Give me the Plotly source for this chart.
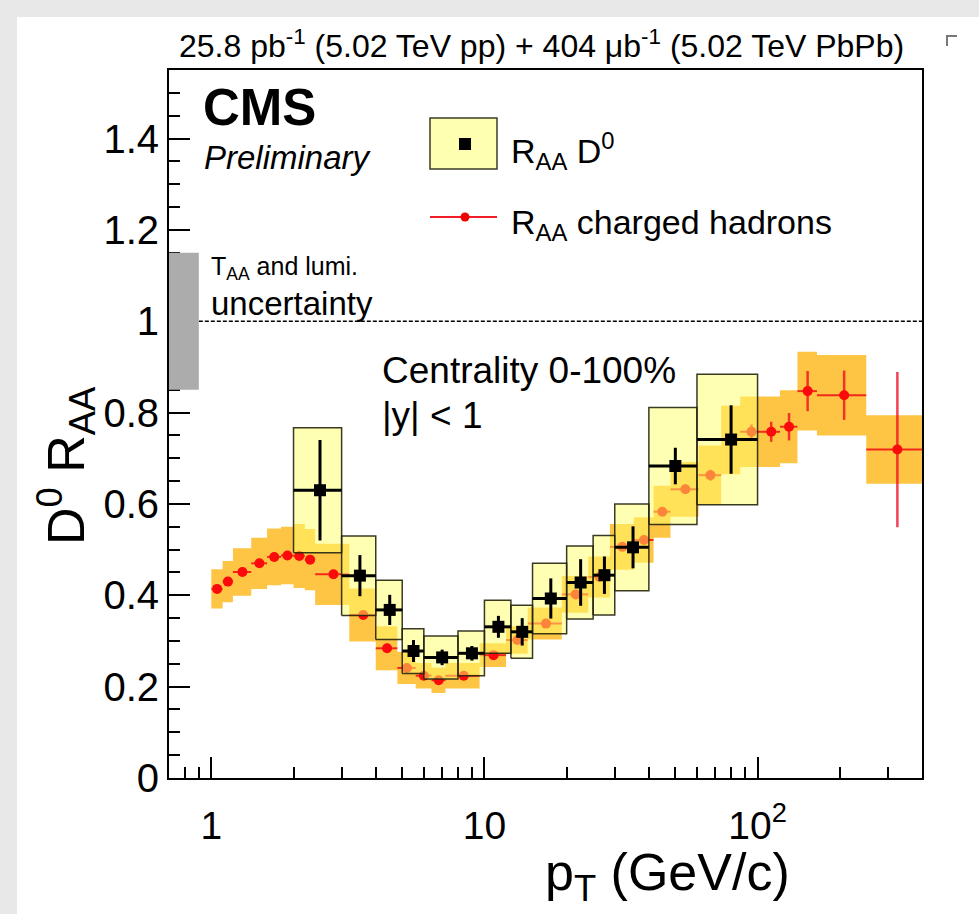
import math
import plotly.graph_objects as go

# ---------------- data ----------------
# D0 R_AA (pT bins in GeV/c)
d0_lo = [2, 3, 4, 5, 6, 8, 10, 12.5, 15, 20, 25, 30, 40, 60]
d0_hi = [3, 4, 5, 6, 8, 10, 12.5, 15, 20, 25, 30, 40, 60, 100]
d0_val = [0.630, 0.443, 0.368, 0.278, 0.264, 0.273, 0.331, 0.320, 0.393, 0.428, 0.444, 0.505, 0.683, 0.741]
d0_stat = [0.110, 0.045, 0.033, 0.024, 0.017, 0.016, 0.024, 0.030, 0.044, 0.051, 0.041, 0.046, 0.040, 0.075]
d0_syst = [0.137, 0.087, 0.065, 0.049, 0.047, 0.049, 0.058, 0.058, 0.077, 0.080, 0.087, 0.095, 0.128, 0.143]

# charged hadron R_AA
ch_lo = [1.0, 1.1, 1.2, 1.4, 1.6, 1.8, 2.0, 2.2, 2.4, 3.2, 4.0, 4.8, 5.6, 6.4, 7.2, 9.6, 12.0, 14.4,
         19.2, 24.0, 28.8, 35.2, 41.6, 48.0, 60.8, 73.6, 86.4, 103.6, 120.8, 140, 165, 250]
ch_hi = [1.1, 1.2, 1.4, 1.6, 1.8, 2.0, 2.2, 2.4, 3.2, 4.0, 4.8, 5.6, 6.4, 7.2, 9.6, 12.0, 14.4, 19.2,
         24.0, 28.8, 35.2, 41.6, 48.0, 60.8, 73.6, 86.4, 103.6, 120.8, 140, 165, 250, 400]
ch_val = [0.414, 0.430, 0.451, 0.470, 0.484, 0.487, 0.486, 0.478, 0.446, 0.357, 0.284, 0.241, 0.224, 0.214,
          0.224, 0.269, 0.302, 0.338, 0.402, 0.440, 0.506, 0.521, 0.583, 0.632, 0.663, 0.740, 0.758, 0.758,
          0.769, 0.847, 0.838, 0.719]
ch_stat = [0.003, 0.003, 0.003, 0.003, 0.003, 0.003, 0.003, 0.003, 0.003, 0.003, 0.003, 0.004, 0.004, 0.004,
           0.004, 0.005, 0.005, 0.006, 0.006, 0.007, 0.008, 0.008, 0.009, 0.010, 0.012, 0.014, 0.016, 0.022,
           0.030, 0.044, 0.054, 0.170]
ch_syst = [0.043, 0.045, 0.052, 0.056, 0.062, 0.063, 0.070, 0.067, 0.067, 0.058, 0.048, 0.035, 0.028, 0.028,
           0.028, 0.026, 0.030, 0.035, 0.040, 0.045, 0.050, 0.050, 0.057, 0.060, 0.065, 0.075, 0.077, 0.077,
           0.080, 0.086, 0.088, 0.075]

taa_unc = 0.15          # T_AA and lumi. uncertainty around unity
x_range = [0.7, 400]
y_range = [0, 1.55]

x_tickvals = [1, 10, 100]
x_ticktext = ["1", "10", "10<sup>2</sup>"]
x_minor = [0.8, 0.9, 2, 3, 4, 5, 6, 7, 8, 9, 20, 30, 40, 50, 60, 70, 80, 90, 200, 300]
y_tickvals = [0, 0.2, 0.4, 0.6, 0.8, 1.0, 1.2, 1.4]
y_ticktext = ["0", "0.2", "0.4", "0.6", "0.8", "1", "1.2", "1.4"]

# ---------------- geometry helpers ----------------
W, H = 979, 914
L, R, T, B = 169, 922, 70, 778   # plot frame in pixels


def px(x):
    return (x - L) / (R - L)


def py(y):
    return (B - y) / (B - T)


def rects(lo, hi, c, e):
    xs, ys = [], []
    for a, b, v, d in zip(lo, hi, c, e):
        xs += [a, b, b, a, a, None]
        ys += [v - d, v - d, v + d, v + d, v - d, None]
    return xs, ys


FONT = "Liberation Sans, Arial, Helvetica, sans-serif"
ORANGE = "rgb(254,197,68)"
YELLOW = "rgba(255,255,105,0.5)"

fig = go.Figure()

# charged hadron systematic bands
bx, by = rects(ch_lo, ch_hi, ch_val, ch_syst)
fig.add_trace(go.Scatter(x=bx, y=by, mode="lines", fill="toself", fillcolor=ORANGE,
                         line=dict(width=0), hoverinfo="skip", showlegend=False))

# charged hadron points
ch_x = [(a + b) / 2 for a, b in zip(ch_lo, ch_hi)]
fig.add_trace(go.Scatter(
    x=ch_x, y=ch_val, mode="markers",
    marker=dict(symbol="circle", size=10, color="rgb(250,10,10)"),
    error_x=dict(type="data", symmetric=False,
                 array=[b - c for b, c in zip(ch_hi, ch_x)],
                 arrayminus=[c - a for a, c in zip(ch_lo, ch_x)],
                 color="rgba(240,0,20,0.8)", thickness=2, width=0),
    error_y=dict(type="data", array=ch_stat, color="rgba(240,0,30,0.75)", thickness=2.5, width=0),
    showlegend=False))

# D0 systematic boxes
dx, dy = rects(d0_lo, d0_hi, d0_val, d0_syst)
fig.add_trace(go.Scatter(x=dx, y=dy, mode="lines", fill="toself", fillcolor=YELLOW,
                         line=dict(width=1.5, color="rgba(35,35,15,0.9)"),
                         hoverinfo="skip", showlegend=False))

# D0 points
d0_x = [(a + b) / 2 for a, b in zip(d0_lo, d0_hi)]
fig.add_trace(go.Scatter(
    x=d0_x, y=d0_val, mode="markers",
    marker=dict(symbol="square", size=12, color="black"),
    error_x=dict(type="data", symmetric=False,
                 array=[b - c for b, c in zip(d0_hi, d0_x)],
                 arrayminus=[c - a for a, c in zip(d0_lo, d0_x)],
                 color="black", thickness=3, width=0),
    error_y=dict(type="data", array=d0_stat, color="black", thickness=3, width=0),
    showlegend=False))

shapes = []
# page background (gray border, white sheet)
shapes.append(dict(type="rect", xref="paper", yref="paper", x0=px(17), x1=px(W + 5),
                   y0=py(17), y1=py(H + 5), fillcolor="white", line=dict(width=0), layer="below"))
# small corner mark top-right
shapes.append(dict(type="path", xref="paper", yref="paper",
                   path=f"M {px(947)} {py(46)} L {px(947)} {py(36)} L {px(957)} {py(36)}",
                   line=dict(color="rgb(120,120,120)", width=2)))
# unity line
shapes.append(dict(type="line", xref="x", yref="y", x0=0.9, x1=x_range[1], y0=1, y1=1,
                   line=dict(color="black", width=1.5, dash="4px,2px")))
# T_AA uncertainty box
shapes.append(dict(type="rect", xref="x", yref="y", x0=x_range[0], x1=0.9,
                   y0=1 - taa_unc, y1=1 + taa_unc, fillcolor="rgb(172,172,172)", line=dict(width=0)))
# legend icons
shapes.append(dict(type="rect", xref="paper", yref="paper", x0=px(430), x1=px(497), y0=py(169), y1=py(118),
                   fillcolor="rgb(255,255,178)", line=dict(color="rgb(60,60,40)", width=1.5)))
shapes.append(dict(type="rect", xref="paper", yref="paper", x0=px(459), x1=px(471), y0=py(150), y1=py(138),
                   fillcolor="black", line=dict(width=0)))
shapes.append(dict(type="line", xref="paper", yref="paper", x0=px(430), x1=px(497), y0=py(217), y1=py(217),
                   line=dict(color="rgb(240,30,40)", width=2)))
shapes.append(dict(type="circle", xref="paper", yref="paper", x0=px(460.5), x1=px(469.5), y0=py(221.5),
                   y1=py(212.5), fillcolor="rgb(240,0,0)", line=dict(width=0)))

ann = []


def text(s, x, y, size, xanchor="left", yanchor="middle", **kw):
    ann.append(dict(text=s, x=px(x), y=py(y), xref="paper", yref="paper", showarrow=False,
                    xanchor=xanchor, yanchor=yanchor, font=dict(family=FONT, size=size, color="black"), **kw))


text("25.8 pb<sup>-1</sup> (5.02 TeV pp) + 404 μb<sup>-1</sup> (5.02 TeV PbPb)", 906, 44, 32, xanchor="right")
text("<b>CMS</b>", 201, 107, 51)
text("<i>Preliminary</i>", 202, 158, 33)
text("T<sub>AA</sub> and lumi.", 209, 268, 25)
text("uncertainty", 209, 303, 33)
text("R<sub>AA</sub> D<sup>0</sup>", 509, 151, 34)
text("R<sub>AA</sub> charged hadrons", 509, 224, 34)
text("Centrality 0-100%", 380, 370, 37)
text("|y| < 1", 380, 415, 37)
text("p<sub>T</sub> (GeV/c)", 792, 876, 52, xanchor="right")
text("D<sup>0</sup> R<sub>AA</sub>", 66, 466, 52, xanchor="center", textangle=-90)

fig.update_layout(
    width=W, height=H,
    margin=dict(l=L, r=W - R, t=T, b=H - B, pad=0),
    paper_bgcolor="rgb(232,232,232)",
    plot_bgcolor="white",
    shapes=shapes, annotations=ann,
    showlegend=False,
    font=dict(family=FONT, color="black"),
)
fig.update_xaxes(
    type="log", range=[math.log10(x_range[0]), math.log10(x_range[1])],
    showgrid=False, zeroline=False, showline=True, linecolor="black", linewidth=2, mirror=True,
    tickmode="array", tickvals=x_tickvals, ticktext=x_ticktext,
    ticks="inside", ticklen=21, tickwidth=2, tickcolor="black",
    tickfont=dict(family=FONT, size=39), ticklabelstandoff=12,
    minor=dict(tickmode="array", tickvals=x_minor, ticks="inside", ticklen=11, tickwidth=1.5,
               tickcolor="black", showgrid=False),
)
fig.update_yaxes(
    range=y_range, showgrid=False, zeroline=False, showline=True, linecolor="black", linewidth=2,
    mirror=True,
    tickmode="array", tickvals=y_tickvals, ticktext=y_ticktext,
    ticks="inside", ticklen=21, tickwidth=2, tickcolor="black",
    tickfont=dict(family=FONT, size=40), ticklabelstandoff=0,
    minor=dict(dtick=0.05, tick0=0, ticks="inside", ticklen=11, tickwidth=1.5, tickcolor="black",
               showgrid=False),
)

fig.write_html("out.html")
